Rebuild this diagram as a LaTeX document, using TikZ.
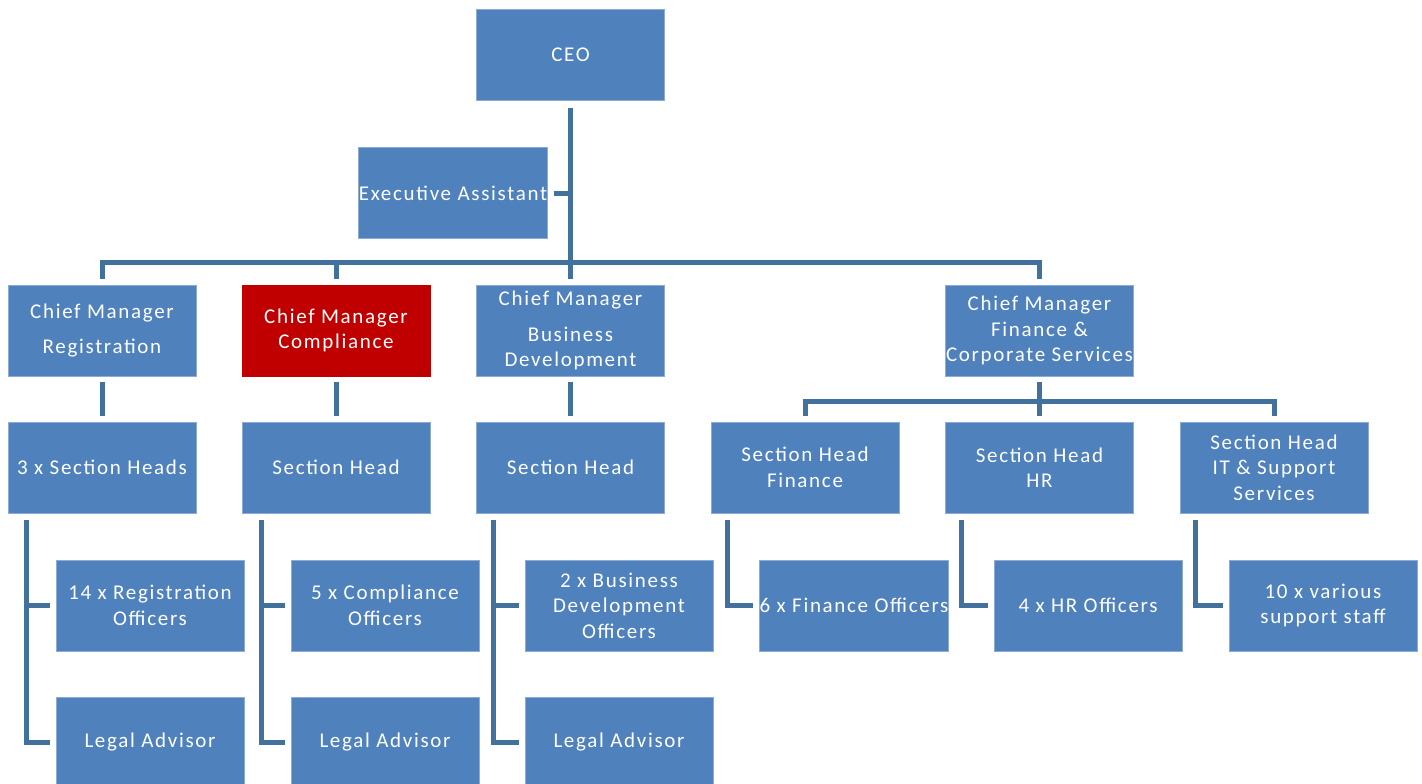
\documentclass[tikz,border=0pt]{standalone}
\usepackage{fontspec}
\setmainfont{Carlito}[LetterSpace=8]
\definecolor{boxblue}{HTML}{4F81BD}
\definecolor{boxred}{HTML}{C00000}
\definecolor{linkblue}{HTML}{41719C}
\definecolor{edgeblue}{HTML}{8EABD3}
\tikzset{
  orgbox/.style={rectangle, fill=boxblue, draw=edgeblue, line width=0.8pt,
    minimum width=188pt, minimum height=91pt, inner sep=0pt,
    text=white, align=center, font=\fontsize{21}{25.5}\selectfont},
  redbox/.style={orgbox, fill=boxred, draw=boxred},
  conn/.style={draw=linkblue, line width=5pt, line cap=butt, line join=miter},
}
\begin{document}
\begin{tikzpicture}[x=1pt, y=-1pt]
\fill[white] (0,0) rectangle (1422,784);
\useasboundingbox (0,0) rectangle (1422,784);
% row 0/1
\node[orgbox] (ceo) at (570.5,55) {CEO};
\node[orgbox] (ea) at (453,193) {Executive Assistant};
% row 2
\node[orgbox] (cmr) at (102,330.5) {Chief Manager\\[10pt]Registration};
\node[redbox] (cmc) at (336,330.5) {Chief Manager\\Compliance};
\node[orgbox] (cmbd) at (570.5,330.5) {Chief Manager\\[10pt]Business\\Development};
\node[orgbox] (cmf) at (1039.5,330.5) {Chief Manager\\Finance \&\\Corporate Services};
% row 3
\node[orgbox] (sh1) at (102,467.5) {3 x Section Heads};
\node[orgbox] (sh2) at (336,467.5) {Section Head};
\node[orgbox] (sh3) at (570.5,467.5) {Section Head};
\node[orgbox] (shf) at (805,467.5) {Section Head\\Finance};
\node[orgbox] (shhr) at (1039.5,467.5) {Section Head\\HR};
\node[orgbox] (shit) at (1274,467.5) {Section Head\\IT \& Support\\Services};
% row 4
\node[orgbox] (ro1) at (150,605.5) {14 x Registration\\Officers};
\node[orgbox] (ro2) at (385,605.5) {5 x Compliance\\Officers};
\node[orgbox] (ro3) at (619,605.5) {2 x Business\\Development\\Officers};
\node[orgbox] (ro4) at (854,605.5) {6 x Finance Officers};
\node[orgbox] (ro5) at (1088,605.5) {4 x HR Officers};
\node[orgbox] (ro6) at (1323,605.5) {10 x various\\support staff};
% row 5
\node[orgbox] (la1) at (150,742.5) {Legal Advisor};
\node[orgbox] (la2) at (385,742.5) {Legal Advisor};
\node[orgbox] (la3) at (619,742.5) {Legal Advisor};
% connectors top
\draw[conn] ([yshift=-7pt]ceo.south) -- ([yshift=6pt]cmbd.north);
\draw[conn] ([xshift=6pt]ea.east) -- (ea.east -| ceo.south);
\draw[conn] ([yshift=6pt]cmr.north) -- ++(0,-16) -| ([yshift=6pt]cmf.north);
\draw[conn] ([yshift=6pt]cmc.north) -- ++(0,-16);
% row 2 -> row 3
\draw[conn] ([yshift=-6pt]cmr.south) -- ([yshift=6pt]sh1.north);
\draw[conn] ([yshift=-6pt]cmc.south) -- ([yshift=6pt]sh2.north);
\draw[conn] ([yshift=-6pt]cmbd.south) -- ([yshift=6pt]sh3.north);
\draw[conn] ([yshift=-6pt]cmf.south) -- ([yshift=6pt]shhr.north);
\draw[conn] ([yshift=6pt]shf.north) -- ++(0,-14) -| ([yshift=6pt]shit.north);
% row 3 -> rows 4,5
\draw[conn] ([xshift=19pt,yshift=-7pt]sh1.south west) |- ([xshift=-6pt]la1.west);
\draw[conn] ([xshift=-6pt]ro1.west) -- ++(-23,0);
\draw[conn] ([xshift=20pt,yshift=-7pt]sh2.south west) |- ([xshift=-6pt]la2.west);
\draw[conn] ([xshift=-6pt]ro2.west) -- ++(-23,0);
\draw[conn] ([xshift=17pt,yshift=-7pt]sh3.south west) |- ([xshift=-6pt]la3.west);
\draw[conn] ([xshift=-6pt]ro3.west) -- ++(-25,0);
\draw[conn] ([xshift=17pt,yshift=-7pt]shf.south west) |- ([xshift=-6pt]ro4.west);
\draw[conn] ([xshift=16pt,yshift=-7pt]shhr.south west) |- ([xshift=-6pt]ro5.west);
\draw[conn] ([xshift=16pt,yshift=-7pt]shit.south west) |- ([xshift=-6pt]ro6.west);
\end{tikzpicture}
\end{document}
